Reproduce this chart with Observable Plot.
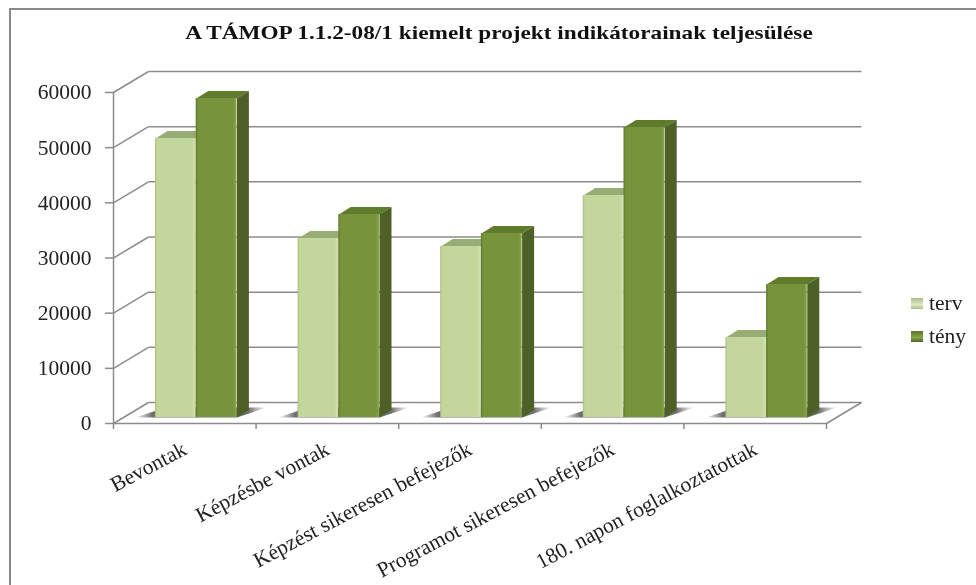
<!DOCTYPE html>
<html><head><meta charset="utf-8">
<script src="https://cdn.jsdelivr.net/npm/d3@7"></script>
<script src="https://cdn.jsdelivr.net/npm/@observablehq/plot@0.6"></script>
<style>
html,body{margin:0;padding:0;background:#fff;overflow:hidden}
#wrap{position:relative;width:976px;height:585px;font-family:"Liberation Serif",serif;color:#222;filter:blur(.35px)}
#frame{position:absolute;left:9px;top:8px;width:990px;height:600px;border:2px solid #8a8a8a;box-sizing:border-box}
#title{position:absolute;left:0;top:22px;width:998px;text-align:center;font-weight:bold;font-size:19px;line-height:22px;color:#111;transform:scaleX(1.225)}
#legend{position:absolute;left:911px;top:287px;font-size:21.5px;line-height:33px}
#legend div{display:flex;align-items:center;height:33px}
#legend i{display:inline-block;width:12px;height:11px;margin-right:6px}
svg{position:absolute;left:0;top:0}
</style></head><body>
<div id="wrap"><div id="frame"></div><div id="chart"></div>
<div id="title">A TÁMOP 1.1.2-08/1 kiemelt projekt indikátorainak teljesülése</div>
<div id="legend"></div></div>
<script>
const categories = ["Bevontak","Képzésbe vontak","Képzést sikeresen befejezők","Programot sikeresen befejezők","180. napon foglalkoztatottak"];
const terv = [50570,32450,31000,40240,14500];
const teny = [57820,36800,33350,52560,24100];
const yTicks = [0,10000,20000,30000,40000,50000,60000];
const seriesNames = ["terv","tény"];

// geometry in data units: 1 category = 142.6px, 1000 = 5.517px
const pxX = p => p/142.6, pxY = p => p/5.517*1000;
const wallDx = pxX(35), wallDy = pxY(21);
const barDx = pxX(12), barDy = pxY(7.5);
const baseX = pxX(42), barW = pxX(40.7), baseY = pxY(6);
const lineCol = "#8c8c8c";

const cols = [
  {front:"url(#gLight)", top:"#98ad75", side:"#8ea36c", vals:terv, off:0},
  {front:"url(#gDark)", top:"#5f7b2c", side:"#4d6126", vals:teny, off:barW}
];
const poly=(id,pts)=>pts.map(([x,y])=>({id,x,y}));
const shadows=[],tops=[],sides=[],fronts=[];
categories.forEach((c,i)=>{
  const x0=i+baseX;
  shadows.push(...poly("s"+i,[[x0-pxX(20),baseY],[x0+2*barW,baseY],[x0+2*barW+pxX(30),baseY+pxY(10)],[x0+pxX(10),baseY+pxY(10)]]));
  cols.forEach((s,k)=>{
    const xl=x0+s.off, xr=xl+barW, v=s.vals[i]+baseY;
    tops.push({k,rows:poly(`t${i}${k}`,[[xl,v],[xr,v],[xr+barDx,v+barDy],[xl+barDx,v+barDy]])});
    sides.push({k,rows:poly(`d${i}${k}`,[[xr,baseY],[xr,v],[xr+barDx,v+barDy],[xr+barDx,baseY+barDy]])});
    fronts.push({k,x1:xl,x2:xr,y1:baseY,y2:v});
  });
});
const rowsOf=(arr,k)=>arr.filter(d=>d.k===k).flatMap(d=>d.rows);

const defs = () => {
  const ns="http://www.w3.org/2000/svg";
  const d=document.createElementNS(ns,"defs");
  d.innerHTML=`
  <linearGradient id="gLight"><stop offset="0" stop-color="#a9bd84"/><stop offset=".05" stop-color="#c3d69b"/><stop offset=".9" stop-color="#c3d69b"/><stop offset="1" stop-color="#d3e2b5"/></linearGradient>
  <linearGradient id="gDark"><stop offset="0" stop-color="#5d7a2c"/><stop offset=".06" stop-color="#77933c"/><stop offset=".92" stop-color="#77933c"/><stop offset="1" stop-color="#88a74b"/></linearGradient>
  <linearGradient id="gShadow"><stop offset="0" stop-color="#666" stop-opacity="0"/><stop offset=".13" stop-color="#666" stop-opacity=".95"/><stop offset=".86" stop-color="#666" stop-opacity=".95"/><stop offset="1" stop-color="#888" stop-opacity="0"/></linearGradient>`;
  return d;
};

const chart = Plot.plot({
  width:976,height:585,marginLeft:113,marginRight:150,marginTop:92,marginBottom:162,
  x:{domain:[0,5],axis:null},
  y:{domain:[0,60000],axis:null},
  style:{background:"transparent",overflow:"visible"},
  marks:[
    defs,
    // wall grid
    Plot.link(yTicks,{x1:0,y1:d=>d,x2:wallDx,y2:d=>d+wallDy,stroke:lineCol,strokeWidth:1.5}),
    Plot.link(yTicks,{x1:wallDx,y1:d=>d+wallDy,x2:5+wallDx,y2:d=>d+wallDy,stroke:lineCol,strokeWidth:1.5}),
    Plot.link([0],{x1:5,y1:0,x2:5+wallDx,y2:wallDy,stroke:lineCol,strokeWidth:1.5}),
    Plot.ruleX([0],{y1:0,y2:60000,stroke:lineCol,strokeWidth:1.5}),
    Plot.ruleY([0],{x1:0,x2:5,stroke:lineCol,strokeWidth:1.5}),
    Plot.axisY({ticks:yTicks,tickSize:8,tickPadding:14,tickFormat:d3.format("d"),stroke:lineCol,strokeWidth:1.5,strokeOpacity:1,fontSize:21.5,fill:"#222",label:null,fontFamily:"Liberation Serif"}),
    Plot.axisX({ticks:d3.range(6),tickSize:6,tickFormat:()=>"",stroke:lineCol,strokeWidth:1.5,strokeOpacity:1,label:null,anchor:"bottom"}),
    // floor shadows
    Plot.line(shadows,{x:"x",y:"y",z:"id",fill:"url(#gShadow)",stroke:"none",curve:"linear-closed"}),
    // bars
    ...[0,1].flatMap(k=>[
      Plot.line(rowsOf(tops,k),{x:"x",y:"y",z:"id",fill:cols[k].top,stroke:"none",curve:"linear-closed"}),
      Plot.line(rowsOf(sides,k),{x:"x",y:"y",z:"id",fill:cols[k].side,stroke:"none",curve:"linear-closed"}),
      Plot.rect(fronts.filter(d=>d.k===k),{x1:"x1",x2:"x2",y1:"y1",y2:"y2",fill:cols[k].front})
    ]),
    // category labels
    Plot.text(categories,{x:(d,i)=>i+.5,y:0,dx:0,dy:24,text:d=>d,rotate:-28,textAnchor:"end",fontSize:21.5,fill:"#222",fontFamily:"Liberation Serif"})
  ]
});
document.getElementById("chart").appendChild(chart);

const lg=document.getElementById("legend");
seriesNames.forEach((n,k)=>{
  const r=document.createElement("div");
  const c=k?"linear-gradient(#5a7528,#86a548 60%,#4f6228)":"linear-gradient(#a9bd84,#dfe9c8 60%,#a9bd84)";
  r.innerHTML=`<i style="background:${c}"></i><span>${n}</span>`;
  lg.appendChild(r);
});
</script></body></html>
